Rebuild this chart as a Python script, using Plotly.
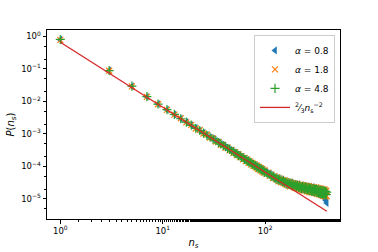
import plotly.graph_objects as go

# cluster sizes (odd values)
ns = [1, 3, 5, 7, 9, 11, 13, 15, 17, 19, 21, 23, 25, 27, 29, 31, 33, 35, 37, 39,
      41, 43, 45, 47, 49, 51, 53, 55, 57, 59, 61, 63, 65, 67, 69, 71, 73, 75, 77, 79,
      81, 83, 85, 87, 89, 91, 93, 95, 97, 99,
      103, 107, 111, 115, 119, 123, 127, 131, 135, 139, 143, 147, 151, 155, 159, 163,
      167, 171, 175, 179, 183, 187, 191, 195, 199, 203, 207, 211, 215, 219, 223, 227,
      231, 235, 239, 243, 247, 251, 255, 259, 263, 267, 271, 275, 279, 283, 287, 291,
      295, 299, 303, 307, 311, 315, 319, 323, 327, 331, 335, 339, 343, 347, 351, 355,
      359, 363, 367, 371, 375, 379, 383, 387, 391, 395, 399]

p_a08 = [0.80, 0.090, 0.0293, 0.0140, 0.00835, 0.00556, 0.00398, 0.00296, 0.00233, 0.00184,
         0.00153, 0.00125, 0.00108, 0.000920, 0.000780, 0.000705, 0.000605, 0.000550, 0.000480, 0.000445,
         0.000390, 0.000368, 0.000322, 0.000309, 0.000271, 0.000262, 0.000231, 0.000226, 0.000199, 0.000197,
         0.000174, 0.000173, 0.000153, 0.000153, 0.000135, 0.000137, 0.000121, 0.000123, 0.000108, 0.000111,
         9.75e-5, 1.01e-4, 8.85e-5, 9.20e-5, 8.05e-5, 8.40e-5, 7.40e-5, 7.70e-5, 6.80e-5, 7.10e-5,
         6.6e-5, 5.5e-5, 6.0e-5, 4.95e-5, 4.95e-5, 4.1e-5, 4.65e-5, 3.95e-5, 4.35e-5, 3.45e-5,
         3.6e-5, 3.95e-5, 2.95e-5, 3.4e-5, 2.95e-5, 3.35e-5, 2.7e-5, 3.05e-5, 2.78e-5, 3.25e-5,
         2.35e-5, 2.75e-5, 2.45e-5, 2.85e-5, 2.25e-5, 2.6e-5, 2.3e-5, 2.85e-5, 2.0e-5, 2.35e-5,
         2.12e-5, 2.6e-5, 1.95e-5, 2.3e-5, 2.05e-5, 2.55e-5, 1.8e-5, 2.1e-5, 1.9e-5, 2.45e-5,
         1.75e-5, 2.05e-5, 1.8e-5, 2.4e-5, 1.62e-5, 1.95e-5, 1.75e-5, 2.3e-5, 1.55e-5, 1.9e-5,
         1.65e-5, 2.2e-5, 1.48e-5, 1.8e-5, 1.6e-5, 2.1e-5, 1.4e-5, 1.7e-5, 1.5e-5, 1.95e-5,
         1.3e-5, 1.6e-5, 1.4e-5, 1.8e-5, 1.22e-5, 1.5e-5, 1.3e-5, 1.6e-5, 1.12e-5, 1.35e-5,
         1.05e-5, 1.15e-5, 0.9e-5, 0.95e-5, 0.75e-5]

p_a18 = [0.79, 0.088, 0.0290, 0.0139, 0.00822, 0.00549, 0.00392, 0.00302, 0.00226, 0.00190,
         0.00147, 0.00131, 0.00103, 0.000950, 0.000765, 0.000725, 0.000585, 0.000570, 0.000465, 0.000455,
         0.000380, 0.000378, 0.000312, 0.000318, 0.000262, 0.000270, 0.000224, 0.000233, 0.000193, 0.000204,
         0.000166, 0.000180, 0.000147, 0.000160, 0.000129, 0.000143, 0.000115, 0.000128, 0.000103, 0.000116,
         9.30e-5, 1.05e-4, 8.45e-5, 9.60e-5, 7.70e-5, 8.80e-5, 7.05e-5, 8.10e-5, 6.50e-5, 7.45e-5,
         5.9e-5, 6.4e-5, 5.1e-5, 5.6e-5, 4.4e-5, 5.0e-5, 4.05e-5, 4.6e-5, 3.5e-5, 4.2e-5,
         3.25e-5, 3.8e-5, 3.05e-5, 3.7e-5, 2.8e-5, 3.45e-5, 2.6e-5, 3.35e-5, 2.45e-5, 3.1e-5,
         2.5e-5, 3.05e-5, 2.25e-5, 2.95e-5, 2.2e-5, 2.9e-5, 2.1e-5, 2.7e-5, 2.05e-5, 2.75e-5,
         1.95e-5, 2.6e-5, 1.9e-5, 2.65e-5, 1.8e-5, 2.5e-5, 1.85e-5, 2.55e-5, 1.7e-5, 2.4e-5,
         1.75e-5, 2.45e-5, 1.6e-5, 2.3e-5, 1.7e-5, 2.35e-5, 1.55e-5, 2.2e-5, 1.65e-5, 2.3e-5,
         1.5e-5, 2.1e-5, 1.6e-5, 2.25e-5, 1.42e-5, 2.05e-5, 1.55e-5, 2.15e-5, 1.38e-5, 2.0e-5,
         1.5e-5, 2.1e-5, 1.3e-5, 1.9e-5, 1.45e-5, 2.0e-5, 1.25e-5, 1.85e-5, 1.4e-5, 1.95e-5,
         1.2e-5, 1.8e-5, 1.3e-5, 1.75e-5, 1.2e-5]

p_a48 = [0.81, 0.089, 0.0296, 0.0141, 0.00830, 0.00560, 0.00401, 0.00293, 0.00231, 0.00186,
         0.00150, 0.00127, 0.00106, 0.000905, 0.000800, 0.000690, 0.000620, 0.000540, 0.000495, 0.000430,
         0.000402, 0.000355, 0.000334, 0.000297, 0.000284, 0.000251, 0.000243, 0.000215, 0.000211, 0.000187,
         0.000184, 0.000163, 0.000162, 0.000144, 0.000145, 0.000128, 0.000130, 0.000114, 0.000117, 0.000103,
         1.06e-4, 9.30e-5, 9.60e-5, 8.50e-5, 8.75e-5, 7.75e-5, 8.00e-5, 7.10e-5, 7.35e-5, 6.55e-5,
         6.4e-5, 5.8e-5, 5.6e-5, 5.0e-5, 5.1e-5, 4.4e-5, 4.4e-5, 3.9e-5, 4.05e-5, 3.7e-5,
         3.85e-5, 3.3e-5, 3.5e-5, 3.1e-5, 3.35e-5, 2.85e-5, 3.15e-5, 2.8e-5, 3.05e-5, 2.65e-5,
         2.9e-5, 2.5e-5, 2.8e-5, 2.4e-5, 2.7e-5, 2.35e-5, 2.6e-5, 2.25e-5, 2.5e-5, 2.2e-5,
         2.45e-5, 2.1e-5, 2.4e-5, 2.05e-5, 2.35e-5, 2.0e-5, 2.3e-5, 1.95e-5, 2.25e-5, 1.9e-5,
         2.2e-5, 1.85e-5, 2.15e-5, 1.8e-5, 2.1e-5, 1.75e-5, 2.05e-5, 1.72e-5, 2.05e-5, 1.7e-5,
         2.0e-5, 1.65e-5, 1.98e-5, 1.62e-5, 1.95e-5, 1.58e-5, 1.92e-5, 1.55e-5, 1.88e-5, 1.52e-5,
         1.85e-5, 1.5e-5, 1.82e-5, 1.48e-5, 1.8e-5, 1.45e-5, 1.78e-5, 1.42e-5, 1.75e-5, 1.4e-5,
         1.72e-5, 1.38e-5, 1.68e-5, 1.35e-5, 1.6e-5]

fit_ns = [1, 400]
fit_p = [0.6667, 4.167e-6]

x_tickvals = [1, 10, 100]
x_ticktext = ["10<sup>0</sup>", "10<sup>1</sup>", "10<sup>2</sup>"]
y_tickvals = [1, 0.1, 0.01, 0.001, 0.0001, 0.00001]
y_ticktext = ["10<sup>0</sup>", "10<sup>\u22121</sup>", "10<sup>\u22122</sup>",
              "10<sup>\u22123</sup>", "10<sup>\u22124</sup>", "10<sup>\u22125</sup>"]

FONT = "DejaVu Sans"

fig = go.Figure()
fig.add_trace(go.Scatter(
    x=ns, y=p_a08, mode="markers", name="<i>\u03b1</i> = 0.8",
    marker=dict(symbol="triangle-left", size=7, color="#1f77b4", line=dict(width=0))))
fig.add_trace(go.Scatter(
    x=ns, y=p_a18, mode="markers", name="<i>\u03b1</i> = 1.8",
    marker=dict(symbol="x-thin", size=6, color="#ff7f0e", line=dict(width=1.2, color="#ff7f0e"))))
fig.add_trace(go.Scatter(
    x=ns, y=p_a48, mode="markers", name="<i>\u03b1</i> = 4.8",
    marker=dict(symbol="cross-thin", size=6.5, color="#2ca02c", line=dict(width=1.2, color="#2ca02c"))))
fig.add_trace(go.Scatter(
    x=fit_ns, y=fit_p, mode="lines",
    name="<sup>2</sup>\u2044<sub>3</sub><i>n</i><sub>s</sub><sup>\u22122</sup>",
    line=dict(color="#d62728", width=1.3)))

axis_common = dict(
    type="log", showgrid=False, zeroline=False, showline=True, linecolor="black",
    linewidth=1, mirror=True, ticks="outside", ticklen=3.5, tickwidth=0.8,
    tickcolor="black", tickfont=dict(family=FONT, size=8.5, color="black"),
    minor=dict(ticks="outside", ticklen=2, tickwidth=0.6, tickcolor="black", showgrid=False),
    automargin=False,
)

fig.update_xaxes(**axis_common, range=[-0.13, 2.731], tickvals=x_tickvals, ticktext=x_ticktext,
                 title=dict(text="<i>n</i><sub><i>s</i></sub>", font=dict(family=FONT, size=10, color="black"),
                            standoff=4))
fig.update_yaxes(**axis_common, range=[-5.62, 0.2], tickvals=y_tickvals, ticktext=y_ticktext,
                 title=dict(text="<i>P</i>(<i>n</i><sub><i>s</i></sub>)",
                            font=dict(family=FONT, size=10, color="black"), standoff=4))

fig.update_layout(
    width=378, height=252,
    margin=dict(l=47, r=38, t=30, b=33, autoexpand=False),
    paper_bgcolor="white", plot_bgcolor="white",
    font=dict(family=FONT, color="black"),
    showlegend=True,
    legend=dict(x=0.983, y=0.974, xanchor="right", yanchor="top",
                bgcolor="rgba(255,255,255,0.8)", bordercolor="#cccccc", borderwidth=1,
                font=dict(family=FONT, size=9, color="black"),
                itemwidth=30, tracegroupgap=0),
)

fig.write_html("out.html", config={"displayModeBar": False},
               post_script="document.body.style.margin='0';document.body.style.padding='0';")
